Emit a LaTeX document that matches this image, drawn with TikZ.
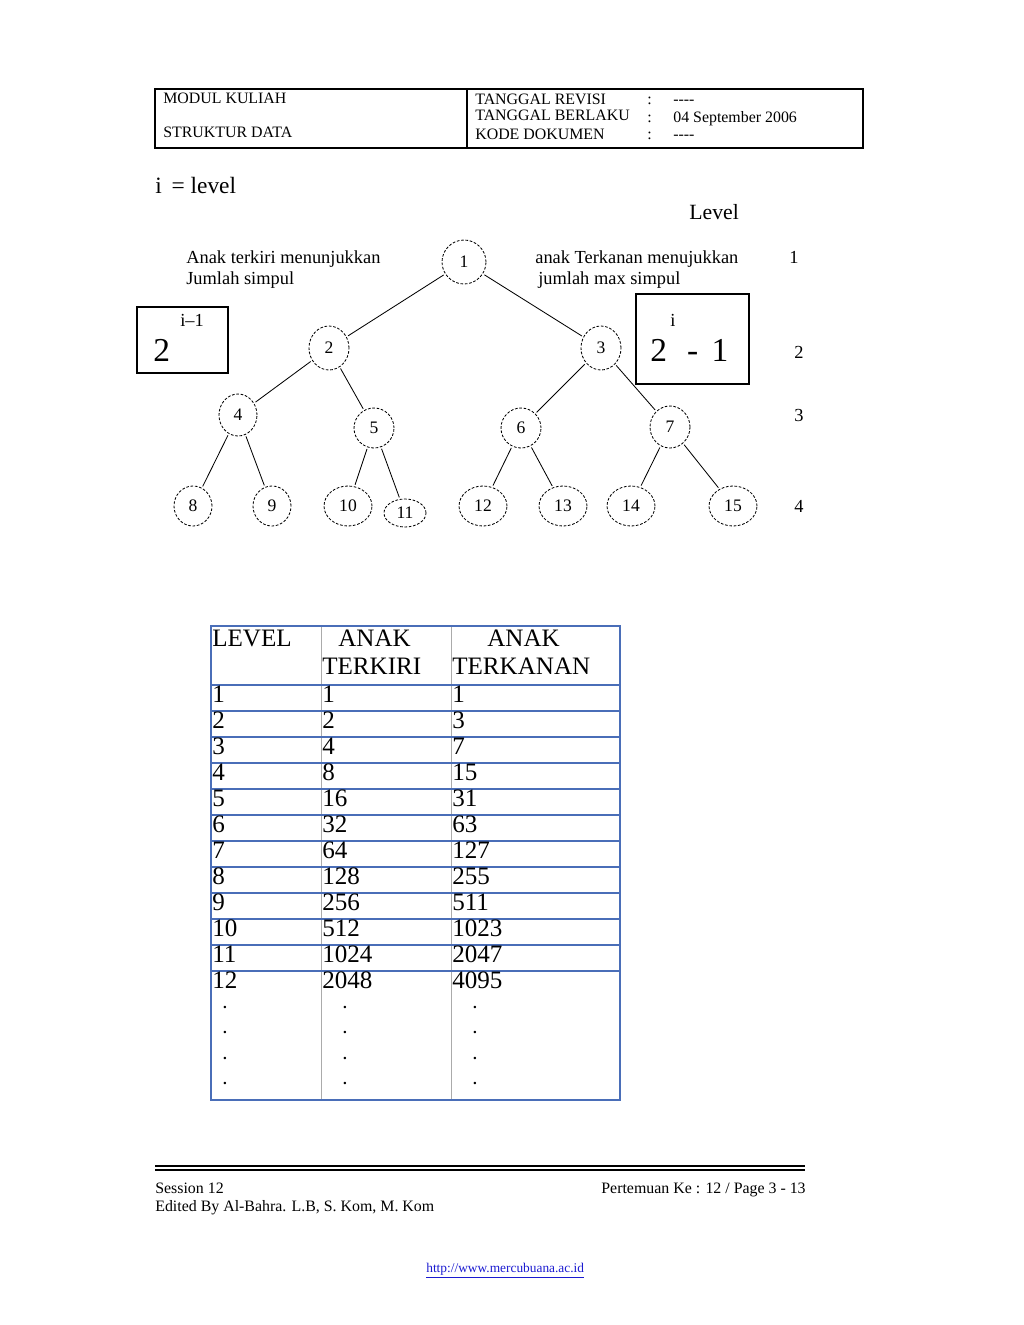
\documentclass[tikz,border=0pt]{standalone}
\usepackage{fontspec}
\setmainfont{Liberation Serif}
\usetikzlibrary{shapes.geometric}
\definecolor{tableblue}{HTML}{4A6EB8}
\definecolor{tablegray}{HTML}{ABABAB}
\definecolor{linkblue}{HTML}{1A1AD0}
\newcommand{\fsz}[1]{\fontsize{#1}{#1}\selectfont}

\begin{document}
\begin{tikzpicture}[x=0.598pt,y=-0.598pt,
  txt/.style={anchor=base west,inner sep=0pt},
  vtx/.style 2 args={ellipse,draw,dashed,dash pattern=on 1.6pt off 1pt,line width=0.5pt,
    minimum width=#1*0.598pt,minimum height=#2*0.598pt,inner sep=0pt,font=\fsz{10.5pt}},
  link/.style={line width=0.5pt,shorten <=1pt,shorten >=1pt}]
  \useasboundingbox (0,0) rectangle (1024,1325);
  % header
  \draw[line width=1.2pt] (155,89) rectangle (863,148);
  \draw[line width=1.2pt] (467,89) -- (467,148);
  \node[txt,font=\fsz{9.5pt}] (modul) at (163,103) {MODUL KULIAH};
  \node[txt,font=\fsz{9.5pt}] (mk) at (163,137) {STRUKTUR DATA};
  \node[txt,font=\fsz{9.5pt}] (rev) at (475,104) {TANGGAL REVISI};
  \node[txt,font=\fsz{9.5pt}] (ber) at (475,120) {TANGGAL BERLAKU};
  \node[txt,font=\fsz{9.5pt}] (kode) at (475,139) {KODE DOKUMEN};
  \node[txt,font=\fsz{9.5pt}] (c1) at (647,104) {:};
  \node[txt,font=\fsz{9.5pt}] (c2) at (647,122) {:};
  \node[txt,font=\fsz{9.5pt}] (c3) at (647,139) {:};
  \node[txt,font=\fsz{9.5pt}] (v1) at (673,104) {{-}{-}{-}{-}};
  \node[txt,font=\fsz{9.5pt}] (v2) at (673,122) {04 September 2006};
  \node[txt,font=\fsz{9.5pt}] (v3) at (673,139) {{-}{-}{-}{-}};
  % tree
  \node[txt,font=\fsz{14pt}] (ilevel) at (155,193) {i \,= level};
  \node[txt,font=\fsz{13pt}] (level) at (689,219) {Level};
  \node[txt,font=\fsz{11pt}] (kiri1) at (186,263) {Anak terkiri menunjukkan};
  \node[txt,font=\fsz{11pt}] (kiri2) at (186,284) {Jumlah simpul};
  \node[txt,font=\fsz{11pt}] (kanan1) at (535,263) {anak Terkanan menujukkan};
  \node[txt,font=\fsz{11pt}] (kanan2) at (538,284) {jumlah max simpul};
  \node[txt,font=\fsz{11pt}] (lv1) at (789,263) {1};
  \node[txt,font=\fsz{11pt}] (lv2) at (794,358) {2};
  \node[txt,font=\fsz{11pt}] (lv3) at (794,421) {3};
  \node[txt,font=\fsz{11pt}] (lv4) at (794,512) {4};
  \draw[line width=0.8pt] (137,307) rectangle (228,373);
  \node[txt,font=\fsz{11pt}] (expl) at (180,326) {i--1};
  \node[txt,font=\fsz{20pt}] (twol) at (153,361) {2};
  \draw[line width=0.8pt] (636,294) rectangle (749,384);
  \node[txt,font=\fsz{11pt}] (expr) at (670,326) {i};
  \node[txt,font=\fsz{20pt}] (twor) at (650,361) {2\hspace{12pt}-\hspace{8pt}1};
  \node[vtx={44}{44}] (n1) at (464,262) {1};
  \node[vtx={40}{44}] (n2) at (329,348) {2};
  \node[vtx={40}{44}] (n3) at (601,348) {3};
  \node[vtx={38}{42}] (n4) at (238,415) {4};
  \node[vtx={40}{40}] (n5) at (374,428) {5};
  \node[vtx={40}{40}] (n6) at (521,428) {6};
  \node[vtx={40}{42}] (n7) at (670,427) {7};
  \node[vtx={38}{40}] (n8) at (193,506) {8};
  \node[vtx={38}{40}] (n9) at (272,506) {9};
  \node[vtx={48}{40}] (n10) at (348,506) {10};
  \node[vtx={42}{28}] (n11) at (405,513) {11};
  \node[vtx={48}{40}] (n12) at (483,506) {12};
  \node[vtx={48}{40}] (n13) at (563,506) {13};
  \node[vtx={48}{40}] (n14) at (631,506) {14};
  \node[vtx={48}{40}] (n15) at (733,506) {15};
  \foreach \a/\b in {n1/n2,n1/n3,n2/n4,n2/n5,n3/n6,n3/n7,n4/n8,n4/n9,
                     n5/n10,n5/n11,n6/n12,n6/n13,n7/n14,n7/n15}
    \draw[link] (\a) -- (\b);
  % table
  \draw[tablegray,line width=0.6pt] (321,626) -- (321,1100);
  \draw[tablegray,line width=0.6pt] (451,626) -- (451,1100);
  \foreach \y in {685,711,...,971}
    \draw[tableblue,line width=1pt] (211,\y) -- (620,\y);
  \draw[tableblue,line width=1.2pt] (211,626) rectangle (620,1100);
  \node[txt,font=\fsz{15pt}] (hlv) at (212,646) {LEVEL};
  \node[txt,font=\fsz{15pt}] (hk1) at (338,646) {ANAK};
  \node[txt,font=\fsz{15pt}] (hk2) at (322,674) {TERKIRI};
  \node[txt,font=\fsz{15pt}] (hr1) at (487,646) {ANAK};
  \node[txt,font=\fsz{15pt}] (hr2) at (452,674) {TERKANAN};
  \foreach \lv/\lf/\rt [count=\k] in {1/1/1,2/2/3,3/4/7,4/8/15,5/16/31,6/32/63,
      7/64/127,8/128/255,9/256/511,10/512/1023,11/1024/2047,12/2048/4095} {
    \node[txt,font=\fsz{15pt}] (a\k) at (212,{676+26*\k}) {\lv};
    \node[txt,font=\fsz{15pt}] (b\k) at (322,{676+26*\k}) {\lf};
    \node[txt,font=\fsz{15pt}] (c\k) at (452,{676+26*\k}) {\rt};
  }
  \foreach \d in {1,...,4} {
    \node[anchor=base,inner sep=0pt,font=\fsz{9pt}\bfseries] (da\d) at (225,{983+25.4*\d}) {.};
    \node[anchor=base,inner sep=0pt,font=\fsz{9pt}\bfseries] (db\d) at (345,{983+25.4*\d}) {.};
    \node[anchor=base,inner sep=0pt,font=\fsz{9pt}\bfseries] (dc\d) at (475,{983+25.4*\d}) {.};
  }
  % footer
  \draw[line width=0.9pt] (155,1166) -- (805,1166);
  \draw[line width=1.5pt] (155,1170) -- (805,1170);
  \node[txt,font=\fsz{9.5pt}] (sess) at (155,1193) {Session 12};
  \node[anchor=base east,inner sep=0pt,font=\fsz{9.5pt}] (page) at (806,1193) {Pertemuan Ke : 12 / Page 3 - 13};
  \node[txt,font=\fsz{9.5pt}] (edit) at (155,1211) {Edited By Al-Bahra. L.B, S. Kom, M. Kom};
  \node[txt,font=\fsz{8pt},text=linkblue] (url) at (426,1272) {\underline{http://www.mercubuana.ac.id}};
\end{tikzpicture}
\end{document}
